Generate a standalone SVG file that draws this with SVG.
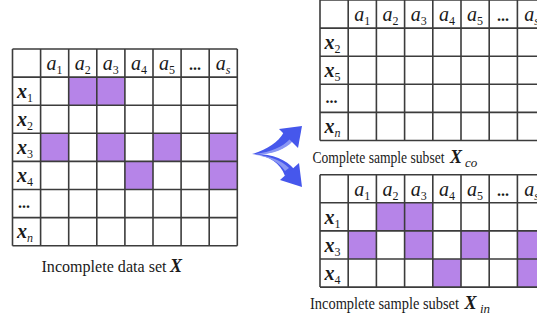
<svg xmlns="http://www.w3.org/2000/svg" width="537" height="321" viewBox="0 0 537 321">
  <style>
    .grid { fill: none; stroke: #3c3c3c; stroke-width: 1.6; }
    .miss { fill: #b684e8; }
    .hd { font-family: "Liberation Serif", serif; font-style: italic; font-size: 20px; fill: #1a1a1a; text-anchor: middle; }
    .rl { font-family: "Liberation Serif", serif; font-style: italic; font-weight: bold; font-size: 20px; fill: #1a1a1a; }
    .sub { font-style: normal; font-weight: normal; font-size: 12px; }
    .subi { font-style: italic; font-weight: normal; font-size: 12px; }
    .dots { font-family: "Liberation Serif", serif; font-weight: bold; font-size: 16px; fill: #1a1a1a; }
    .cap { font-family: "Liberation Serif", serif; font-size: 17px; fill: #1a1a1a; }
    .capx { font-family: "Liberation Serif", serif; font-size: 18px; font-style: italic; font-weight: bold; fill: #1a1a1a; }
    .capsub { font-family: "Liberation Serif", serif; font-size: 13px; font-style: italic; fill: #1a1a1a; }
    .arm { fill: #4657ec; }
    .armhi { fill: #8b97f3; }
  </style>

  <!-- Full data set: 8 columns x 7 rows, cell 28.1 -->
  <g id="dataset">
    <rect class="miss" x="68.7" y="77.1" width="28.1" height="28.1"/>
    <rect class="miss" x="96.8" y="77.1" width="28.1" height="28.1"/>
    <rect class="miss" x="40.6" y="133.3" width="28.1" height="28.1"/>
    <rect class="miss" x="96.8" y="133.3" width="28.1" height="28.1"/>
    <rect class="miss" x="153" y="133.3" width="28.1" height="28.1"/>
    <rect class="miss" x="209.2" y="133.3" width="28.1" height="28.1"/>
    <rect class="miss" x="124.9" y="161.4" width="28.1" height="28.1"/>
    <rect class="miss" x="209.2" y="161.4" width="28.1" height="28.1"/>
    <path class="grid" d="M12.5 49H237.3M12.5 77.1H237.3M12.5 105.2H237.3M12.5 133.3H237.3M12.5 161.4H237.3M12.5 189.5H237.3M12.5 217.6H237.3M12.5 245.7H237.3
      M12.5 49V245.7M40.6 49V245.7M68.7 49V245.7M96.8 49V245.7M124.9 49V245.7M153 49V245.7M181.1 49V245.7M209.2 49V245.7M237.3 49V245.7"/>
    <text class="hd" x="54.6" y="70">a<tspan class="sub" dy="4">1</tspan></text>
    <text class="hd" x="82.7" y="70">a<tspan class="sub" dy="4">2</tspan></text>
    <text class="hd" x="110.8" y="70">a<tspan class="sub" dy="4">3</tspan></text>
    <text class="hd" x="138.9" y="70">a<tspan class="sub" dy="4">4</tspan></text>
    <text class="hd" x="167" y="70">a<tspan class="sub" dy="4">5</tspan></text>
    <text class="dots" x="189" y="70">...</text>
    <text class="hd" x="223.2" y="70">a<tspan class="subi" dy="4">s</tspan></text>
    <text class="rl" x="17" y="98">x<tspan class="sub" dy="4">1</tspan></text>
    <text class="rl" x="17" y="126">x<tspan class="sub" dy="4">2</tspan></text>
    <text class="rl" x="17" y="154">x<tspan class="sub" dy="4">3</tspan></text>
    <text class="rl" x="17" y="182">x<tspan class="sub" dy="4">4</tspan></text>
    <text class="dots" x="18" y="208">...</text>
    <text class="rl" x="17" y="238">x<tspan class="subi" dy="4">n</tspan></text>
    <text class="cap" x="41.5" y="272" textLength="125" lengthAdjust="spacingAndGlyphs">Incomplete data set</text>
    <text class="capx" x="170" y="272">X</text>
  </g>

  <!-- Complete rows subset -->
  <g id="complete-subset">
    <path class="grid" d="M320 0H545.6M320 28.1H545.6M320 56.2H545.6M320 84.3H545.6M320 112.4H545.6M320 140.5H545.6
      M320 0V140.5M348.2 0V140.5M376.4 0V140.5M404.6 0V140.5M432.8 0V140.5M461 0V140.5M489.2 0V140.5M517.4 0V140.5"/>
    <text class="hd" x="362.3" y="21">a<tspan class="sub" dy="4">1</tspan></text>
    <text class="hd" x="390.5" y="21">a<tspan class="sub" dy="4">2</tspan></text>
    <text class="hd" x="418.7" y="21">a<tspan class="sub" dy="4">3</tspan></text>
    <text class="hd" x="446.9" y="21">a<tspan class="sub" dy="4">4</tspan></text>
    <text class="hd" x="475.1" y="21">a<tspan class="sub" dy="4">5</tspan></text>
    <text class="dots" x="497" y="21">...</text>
    <text class="hd" x="531.5" y="21">a<tspan class="subi" dy="4">s</tspan></text>
    <text class="rl" x="324.5" y="49">x<tspan class="sub" dy="4">2</tspan></text>
    <text class="rl" x="324.5" y="77">x<tspan class="sub" dy="4">5</tspan></text>
    <text class="dots" x="325.5" y="103">...</text>
    <text class="rl" x="324.5" y="133">x<tspan class="subi" dy="4">n</tspan></text>
    <text class="cap" x="312.5" y="162.5" textLength="132" lengthAdjust="spacingAndGlyphs">Complete sample subset</text>
    <text class="capx" x="450" y="162.5">X</text>
    <text class="capsub" x="465" y="166.5">co</text>
  </g>

  <!-- Incomplete rows subset -->
  <g id="incomplete-subset">
    <rect class="miss" x="376.4" y="202.8" width="28.2" height="28.1"/>
    <rect class="miss" x="404.6" y="202.8" width="28.2" height="28.1"/>
    <rect class="miss" x="348.2" y="230.9" width="28.2" height="28.1"/>
    <rect class="miss" x="404.6" y="230.9" width="28.2" height="28.1"/>
    <rect class="miss" x="461" y="230.9" width="28.2" height="28.1"/>
    <rect class="miss" x="517.4" y="230.9" width="28.2" height="28.1"/>
    <rect class="miss" x="432.8" y="259" width="28.2" height="28.1"/>
    <rect class="miss" x="517.4" y="259" width="28.2" height="28.1"/>
    <path class="grid" d="M320 174.7H545.6M320 202.8H545.6M320 230.9H545.6M320 259H545.6M320 287.1H545.6
      M320 174.7V287.1M348.2 174.7V287.1M376.4 174.7V287.1M404.6 174.7V287.1M432.8 174.7V287.1M461 174.7V287.1M489.2 174.7V287.1M517.4 174.7V287.1"/>
    <text class="hd" x="362.3" y="196">a<tspan class="sub" dy="4">1</tspan></text>
    <text class="hd" x="390.5" y="196">a<tspan class="sub" dy="4">2</tspan></text>
    <text class="hd" x="418.7" y="196">a<tspan class="sub" dy="4">3</tspan></text>
    <text class="hd" x="446.9" y="196">a<tspan class="sub" dy="4">4</tspan></text>
    <text class="hd" x="475.1" y="196">a<tspan class="sub" dy="4">5</tspan></text>
    <text class="dots" x="497" y="196">...</text>
    <text class="hd" x="531.5" y="196">a<tspan class="subi" dy="4">s</tspan></text>
    <text class="rl" x="324.5" y="224">x<tspan class="sub" dy="4">1</tspan></text>
    <text class="rl" x="324.5" y="252">x<tspan class="sub" dy="4">3</tspan></text>
    <text class="rl" x="324.5" y="280">x<tspan class="sub" dy="4">4</tspan></text>
    <text class="cap" x="310" y="309" textLength="149" lengthAdjust="spacingAndGlyphs">Incomplete sample subset</text>
    <text class="capx" x="464.5" y="309">X</text>
    <text class="capsub" x="480" y="313">in</text>
  </g>

  <!-- Split arrow -->
  <g id="connectors">
    <path class="arm" d="M252 154 C266 150 278 143 284 132 L293 139 C285 150 270 155 252 154 Z"/>
    <path class="armhi" d="M256 154 C270 152 283 147 290 139 L293 141 C285 150 270 155 256 154 Z"/>
    <polygon class="arm" points="302,126 279,129 298,148"/>
    <path class="arm" d="M252 154 C268 155 280 162 285 176 L294 169 C286 159 270 153 252 154 Z"/>
    <path class="armhi" d="M256 155 C269 157 279 162 285 171 L289 168 C281 160 270 156 256 155 Z"/>
    <polygon class="arm" points="302,187 280,180 299,163"/>
  </g>
</svg>
